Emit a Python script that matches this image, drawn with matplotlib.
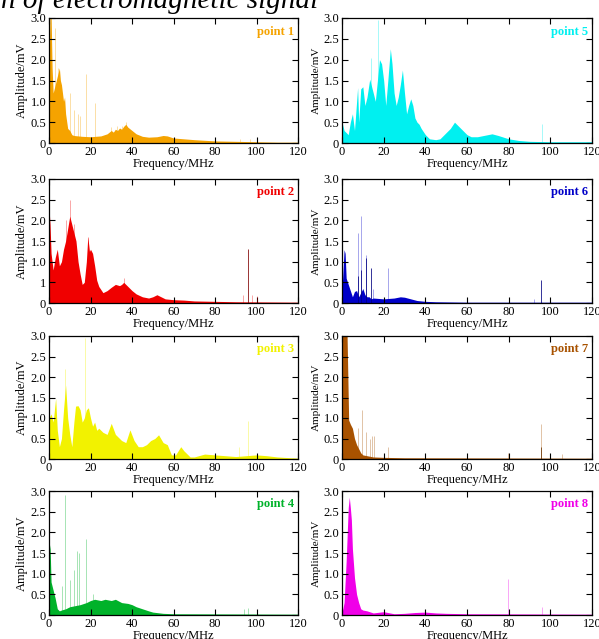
import matplotlib
matplotlib.use('Agg')
import matplotlib.pyplot as plt

plt.rcParams['font.family'] = ['Liberation Serif', 'DejaVu Serif']

# envelope (f in MHz, amplitude in mV) and spikes
p1_f = [0, 0.5, 1, 1.5, 2, 3, 4, 5, 5.5, 6, 7, 7.5, 8, 9, 10, 11, 12, 14, 16, 20, 25, 28, 30, 31, 32, 33, 34, 35, 36, 37, 38, 39, 40, 42, 45, 48, 52, 55, 57, 60, 65, 70, 80, 90, 100, 110, 120]
p1_a = [1.7, 3.1, 3.1, 1.8, 1.2, 1.4, 1.6, 1.8, 1.5, 1.4, 1.0, 1.1, 0.7, 0.35, 0.3, 0.2, 0.18, 0.17, 0.16, 0.15, 0.17, 0.22, 0.3, 0.26, 0.33, 0.3, 0.36, 0.33, 0.4, 0.45, 0.38, 0.34, 0.3, 0.22, 0.16, 0.14, 0.15, 0.18, 0.17, 0.12, 0.1, 0.08, 0.05, 0.04, 0.03, 0.02, 0.02]
p1_sf = [3, 4.5, 10, 12, 14, 15, 17.8, 22, 30, 33, 35, 37, 92, 97]
p1_sa = [2.75, 1.8, 1.2, 0.8, 0.7, 0.65, 1.65, 0.95, 0.38, 0.4, 0.42, 0.5, 0.1, 0.1]

p2_f = [0, 0.5, 1, 2, 3, 4, 5, 6, 7, 8, 9, 10, 11, 12, 13, 14, 15, 16, 17, 18, 18.7, 19.5, 20, 21, 22, 23, 24, 26, 28, 30, 32, 34, 35, 36, 38, 40, 42, 45, 48, 50, 52, 54, 56, 60, 65, 70, 80, 90, 120]
p2_a = [2.3, 1.9, 1.2, 0.8, 1.1, 1.3, 0.9, 1.0, 1.3, 1.5, 1.8, 2.1, 1.9, 1.7, 1.5, 1.0, 0.7, 0.45, 0.5, 1.0, 1.6, 1.25, 1.3, 1.2, 0.9, 0.55, 0.4, 0.25, 0.3, 0.38, 0.45, 0.42, 0.45, 0.5, 0.4, 0.3, 0.22, 0.15, 0.12, 0.15, 0.2, 0.15, 0.1, 0.08, 0.07, 0.05, 0.04, 0.03, 0.02]
p2_sf = [10, 8, 12, 19, 36, 93.5, 98, 100]
p2_sa = [2.5, 2.0, 1.9, 1.6, 0.6, 0.2, 0.2, 0.18]
p2_df = [96]
p2_da = [1.3]

p3_f = [0, 1, 2, 3.2, 4, 5, 6, 7, 8, 9, 10, 11, 12, 12.8, 14, 15, 16, 17, 18, 19, 20, 21, 22, 23, 24, 26, 28, 30, 32, 34, 35, 37, 39, 41, 43, 45, 47, 49, 51, 52.8, 55, 57, 59, 61, 63.5, 65, 67, 68, 70, 75, 80, 85, 90, 95, 100, 105, 110, 120]
p3_a = [1.0, 1.1, 0.9, 1.48, 0.7, 0.3, 0.5, 1.2, 1.8, 1.0, 0.6, 0.3, 0.9, 1.29, 1.3, 1.2, 0.9, 1.0, 1.2, 1.25, 1.0, 0.8, 0.9, 0.7, 0.75, 0.65, 0.6, 0.87, 0.6, 0.5, 0.45, 0.4, 0.71, 0.45, 0.3, 0.3, 0.35, 0.45, 0.5, 0.59, 0.4, 0.35, 0.1, 0.1, 0.3, 0.2, 0.1, 0.05, 0.05, 0.12, 0.1, 0.08, 0.06, 0.08, 0.1, 0.08, 0.05, 0.02]
p3_sf = [7.5, 17.5, 91.5, 96]
p3_sa = [2.2, 2.95, 0.3, 0.92]

p4_f = [0, 0.5, 1, 2, 3, 4, 5, 6, 8, 10, 12, 15, 18, 20, 22, 25, 27, 30, 32, 35, 38, 40, 42, 45, 48, 50, 55, 60, 120]
p4_a = [1.5, 1.7, 0.8, 0.6, 0.4, 0.15, 0.1, 0.12, 0.15, 0.2, 0.22, 0.25, 0.3, 0.35, 0.38, 0.35, 0.38, 0.35, 0.38, 0.3, 0.28, 0.25, 0.2, 0.15, 0.1, 0.07, 0.04, 0.03, 0.02]
p4_sf = [6.5, 7.5, 10, 12, 13.5, 14.5, 18, 21, 94, 96]
p4_sa = [0.7, 2.9, 0.85, 1.1, 1.55, 1.5, 1.85, 0.5, 0.15, 0.18]

p5_f = [0, 1, 2, 3, 4, 5, 6, 7.5, 8, 9, 10, 11, 12, 13.3, 15, 16, 17, 18, 19, 20, 21, 22, 23.2, 24, 25, 26, 27, 28, 29, 30, 31, 32, 33, 34, 35, 36, 37, 38, 40, 42, 45, 47, 50, 52, 54, 56, 58, 60, 62, 65, 70, 72, 75, 80, 85, 90, 100, 110, 120]
p5_a = [0.5, 0.3, 0.25, 0.2, 0.5, 0.7, 0.3, 1.33, 0.5, 1.3, 1.35, 0.9, 1.1, 1.53, 1.2, 1.0, 1.5, 2.0, 1.9, 1.5, 0.9, 1.5, 2.26, 1.9, 1.2, 0.9, 1.1, 1.4, 1.75, 1.2, 0.7, 0.9, 1.06, 0.9, 0.6, 0.5, 0.45, 0.35, 0.2, 0.1, 0.08, 0.1, 0.25, 0.35, 0.5, 0.4, 0.3, 0.2, 0.15, 0.15, 0.2, 0.22, 0.18, 0.1, 0.06, 0.04, 0.03, 0.03, 0.03]
p5_sf = [14, 17.5, 96]
p5_sa = [2.05, 2.95, 0.45]

p6_f = [0, 1, 1.5, 2, 3, 4, 5, 6, 7, 8, 9, 10, 11, 12, 13, 14, 15, 20, 25, 28, 30, 33, 36, 40, 45, 60, 120]
p6_a = [0.3, 1.29, 1.2, 0.6, 0.45, 0.3, 0.15, 0.28, 0.3, 0.15, 0.25, 0.35, 0.2, 0.15, 0.15, 0.1, 0.12, 0.1, 0.12, 0.15, 0.14, 0.1, 0.06, 0.04, 0.03, 0.02, 0.02]
p6_sf = [7.7, 9.3, 11.7, 14.9, 21.9, 92]
p6_sa = [1.7, 2.1, 1.15, 0.35, 0.85, 0.1]
p6_df = [7.7, 9.3, 11.7, 14.1, 95.7]
p6_da = [0.65, 0.8, 1.1, 0.85, 0.55]

p7_f = [0, 0.5, 2.4, 3.2, 4, 5, 6, 7, 8, 9, 10, 12, 15, 20, 30, 120]
p7_a = [3.1, 3.1, 3.1, 0.95, 0.85, 0.75, 0.5, 0.35, 0.25, 0.15, 0.1, 0.08, 0.05, 0.04, 0.03, 0.02]
p7_sf = [5.1, 7.5, 9.6, 11.7, 13.3, 14.4, 15.2, 21.9, 79.7, 95.5, 105.6]
p7_sa = [0.6, 0.75, 1.2, 0.65, 0.5, 0.55, 0.55, 0.3, 0.15, 0.85, 0.12]
p7_df = [95.5]
p7_da = [0.3]

p8_f = [0, 1, 2, 3, 3.5, 4, 4.5, 5, 6, 7, 8, 9, 10, 12, 15, 20, 22, 25, 30, 35, 40, 45, 50, 60, 120]
p8_a = [0.05, 0.3, 1.3, 2.6, 2.85, 2.6, 2.3, 1.6, 0.9, 0.5, 0.3, 0.15, 0.12, 0.1, 0.05, 0.08, 0.06, 0.03, 0.04, 0.06, 0.07, 0.05, 0.04, 0.03, 0.02]
p8_sf = [79.5, 96]
p8_sa = [0.88, 0.2]

names = ['point 1', 'point 2', 'point 3', 'point 4', 'point 5', 'point 6', 'point 7', 'point 8']
colors = ['#F5A300', '#F00000', '#F2F200', '#00B22A', '#00F0F0', '#0000C8', '#A85200', '#F000E8']
dark_colors = ['#B07000', '#800000', '#C0C000', '#007018', '#00A0A0', '#000080', '#6A3300', '#A000A0']

env_f = [p1_f, p2_f, p3_f, p4_f, p5_f, p6_f, p7_f, p8_f]
env_a = [p1_a, p2_a, p3_a, p4_a, p5_a, p6_a, p7_a, p8_a]
spk_f = [p1_sf, p2_sf, p3_sf, p4_sf, p5_sf, p6_sf, p7_sf, p8_sf]
spk_a = [p1_sa, p2_sa, p3_sa, p4_sa, p5_sa, p6_sa, p7_sa, p8_sa]
dk_f = [[], p2_df, [], [], [], p6_df, p7_df, []]
dk_a = [[], p2_da, [], [], [], p6_da, p7_da, []]

x_ticks = [0, 20, 40, 60, 80, 100, 120]
y_ticks = [0, 0.5, 1.0, 1.5, 2.0, 2.5, 3.0]
y_labels = ['0', '0.5', '1.0', '1.5', '2.0', '2.5', '3.0']

W, H = 599, 639
fig = plt.figure(figsize=(W / 100, H / 100), dpi=100)

cols = [(49, 298), (342, 592)]
rows = [(18, 143), (179, 303), (336, 459), (491, 615)]

for i in range(8):
    c = i // 4
    r = i % 4
    x0, x1 = cols[c]
    y0, y1 = rows[r]
    ax = fig.add_axes([x0 / W, 1 - y1 / H, (x1 - x0) / W, (y1 - y0) / H])

    ax.fill_between(env_f[i], env_a[i], color=colors[i], lw=0)
    ax.vlines(spk_f[i], 0, spk_a[i], color=colors[i], lw=0.7, alpha=0.35)
    if dk_f[i]:
        ax.vlines(dk_f[i], 0, dk_a[i], color=dark_colors[i], lw=0.7, alpha=0.8)

    ax.set_xlim(0, 120)
    ax.set_ylim(0, 3.0)
    ax.set_xticks(x_ticks)
    ax.set_yticks(y_ticks)
    labels = list(y_labels)
    if i == 1:
        labels[1] = '1'
    ax.set_yticklabels(labels)
    ax.tick_params(direction='in', top=True, right=True, length=4, width=0.8,
                   labelsize=9, pad=2)
    for s in ax.spines.values():
        s.set_linewidth(0.9)

    ax.set_xlabel('Frequency/MHz', fontsize=9, labelpad=0)
    ax.set_ylabel('Amplitude/mV', fontsize=9 if c == 0 else 8, labelpad=2)
    ax.text(0.985, 0.94, names[i], transform=ax.transAxes, ha='right', va='top',
            color=colors[i], fontsize=9, fontweight='bold')

# the figure title is cut by the top edge in the reference
fig.text(318 / W, 1 - 8 / H, 'n of electromagnetic signal', ha='right', va='baseline',
         fontsize=21, style='italic')

fig.savefig('out.png', dpi=100)
